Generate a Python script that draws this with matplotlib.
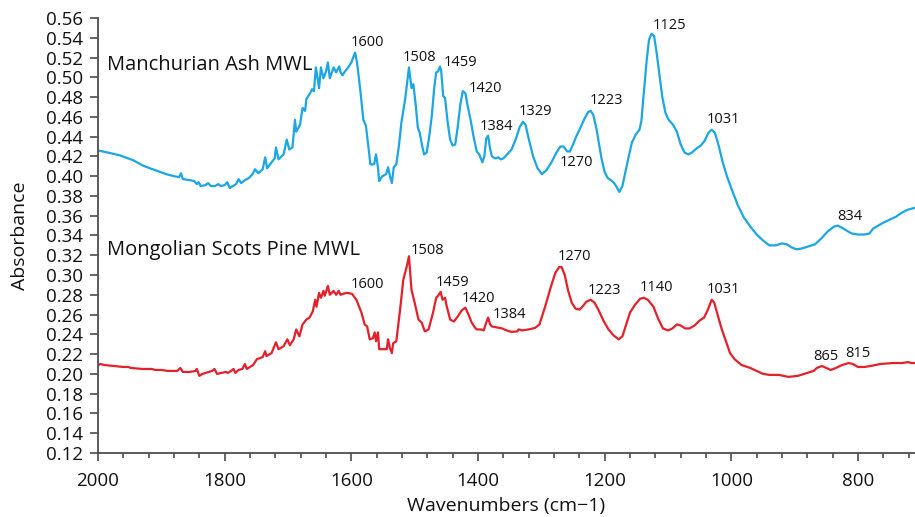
import matplotlib
matplotlib.use('Agg')
import matplotlib.pyplot as plt
from matplotlib.ticker import MultipleLocator, FormatStrFormatter

plt.rcParams['font.family'] = ['Open Sans', 'DejaVu Sans']

# Manchurian Ash MWL spectrum (wavenumber, absorbance)
ash_wn = [2000, 1985, 1965, 1944, 1930, 1918, 1905, 1892, 1880, 1872, 1869, 1866,
          1855, 1848, 1844, 1841, 1838, 1830, 1826, 1822, 1815, 1810, 1806, 1800,
          1796, 1792, 1787, 1782, 1778, 1774, 1768, 1762, 1756, 1752, 1747, 1740,
          1736, 1733, 1726, 1721, 1719, 1715, 1707, 1702, 1698, 1693, 1689, 1687,
          1681, 1677, 1673, 1671, 1665, 1662, 1659, 1656, 1653, 1651, 1648, 1644,
          1640, 1637, 1634, 1628, 1624, 1619, 1617, 1614, 1610, 1605, 1600, 1596,
          1594, 1591, 1586, 1581, 1577, 1572, 1570, 1564, 1561, 1558, 1556, 1551,
          1545, 1542, 1539, 1536, 1533, 1529, 1525, 1521, 1515, 1509, 1505, 1502,
          1498, 1495, 1492, 1488, 1485, 1481, 1477, 1473, 1469, 1466, 1463, 1460,
          1458, 1455, 1452, 1448, 1444, 1440, 1436, 1432, 1428, 1424, 1420, 1416,
          1412, 1407, 1402, 1398, 1393, 1390, 1387, 1384, 1381, 1378, 1373, 1368,
          1364, 1360, 1354, 1347, 1340, 1334, 1329, 1325, 1320, 1313, 1306, 1299,
          1292, 1284, 1276, 1270, 1265, 1259, 1255, 1250, 1245, 1239, 1232, 1226,
          1222, 1218, 1213, 1209, 1205, 1200, 1195, 1190, 1185, 1181, 1177, 1172,
          1168, 1162, 1157, 1151, 1145, 1142, 1138, 1134, 1130, 1126, 1122, 1118,
          1113, 1109, 1104, 1099, 1092, 1086, 1080, 1074, 1068, 1062, 1055, 1048,
          1042, 1036, 1031, 1026, 1020, 1014, 1007, 999, 990, 980, 970, 960,
          950, 940, 930, 920, 912, 905, 897, 888, 878, 868, 858, 848,
          838, 832, 826, 818, 810, 800, 790, 782, 776, 768, 760, 750,
          740, 731, 722, 710]
ash_abs = [0.426, 0.424, 0.421, 0.416, 0.411, 0.408, 0.405, 0.402, 0.400, 0.399, 0.403, 0.397,
           0.396, 0.395, 0.392, 0.394, 0.390, 0.391, 0.393, 0.390, 0.390, 0.392, 0.390, 0.391,
           0.394, 0.388, 0.390, 0.392, 0.397, 0.393, 0.396, 0.398, 0.402, 0.407, 0.403, 0.407,
           0.419, 0.408, 0.414, 0.418, 0.429, 0.417, 0.422, 0.437, 0.427, 0.429, 0.457, 0.445,
           0.452, 0.469, 0.466, 0.478, 0.484, 0.488, 0.486, 0.510, 0.498, 0.489, 0.510, 0.499,
           0.506, 0.515, 0.499, 0.510, 0.505, 0.511, 0.505, 0.502, 0.506, 0.510, 0.515, 0.522,
           0.525, 0.515, 0.488, 0.457, 0.451, 0.424, 0.412, 0.412, 0.422, 0.409, 0.395, 0.400,
           0.402, 0.409, 0.400, 0.393, 0.409, 0.412, 0.430, 0.454, 0.478, 0.510, 0.489, 0.493,
           0.470, 0.449, 0.444, 0.430, 0.422, 0.424, 0.440, 0.461, 0.490, 0.505, 0.506, 0.511,
           0.506, 0.481, 0.479, 0.455, 0.437, 0.431, 0.432, 0.450, 0.472, 0.486, 0.484, 0.470,
           0.458, 0.440, 0.425, 0.422, 0.414, 0.420, 0.438, 0.441, 0.428, 0.420, 0.418, 0.419,
           0.417, 0.418, 0.422, 0.427, 0.438, 0.450, 0.455, 0.452, 0.438, 0.420, 0.408, 0.402,
           0.406, 0.414, 0.424, 0.430, 0.430, 0.425, 0.425, 0.432, 0.440, 0.448, 0.458, 0.465,
           0.466, 0.462, 0.448, 0.433, 0.418, 0.404, 0.398, 0.396, 0.393, 0.389, 0.384, 0.390,
           0.402, 0.420, 0.434, 0.442, 0.447, 0.456, 0.485, 0.515, 0.538, 0.544, 0.542, 0.525,
           0.500, 0.480, 0.464, 0.457, 0.452, 0.445, 0.432, 0.424, 0.422, 0.424, 0.428, 0.431,
           0.436, 0.444, 0.447, 0.444, 0.431, 0.415, 0.400, 0.386, 0.371, 0.358, 0.349, 0.341,
           0.335, 0.330, 0.330, 0.332, 0.331, 0.328, 0.326, 0.327, 0.329, 0.331, 0.337, 0.344,
           0.349, 0.350, 0.348, 0.345, 0.342, 0.341, 0.341, 0.342, 0.347, 0.350, 0.353, 0.356,
           0.359, 0.363, 0.366, 0.368]

# Mongolian Scots Pine MWL spectrum
pine_wn = [2000, 1996, 1990, 1975, 1960, 1952, 1948, 1930, 1915, 1910, 1900, 1890,
           1875, 1870, 1866, 1855, 1846, 1844, 1840, 1835, 1830, 1820, 1816, 1812,
           1805, 1798, 1795, 1790, 1786, 1783, 1778, 1772, 1768, 1765, 1760, 1755,
           1749, 1744, 1740, 1736, 1734, 1726, 1719, 1715, 1707, 1701, 1697, 1691,
           1687, 1682, 1677, 1671, 1666, 1661, 1657, 1655, 1651, 1648, 1644, 1642,
           1637, 1634, 1628, 1624, 1620, 1617, 1613, 1607, 1599, 1592, 1584, 1579,
           1575, 1571, 1566, 1563, 1561, 1558, 1556, 1551, 1544, 1542, 1539, 1536,
           1534, 1529, 1523, 1518, 1512, 1509, 1505, 1500, 1494, 1489, 1484, 1478,
           1471, 1466, 1463, 1459, 1456, 1452, 1450, 1444, 1438, 1432, 1426, 1420,
           1415, 1410, 1405, 1402, 1396, 1391, 1388, 1384, 1381, 1378, 1370, 1362,
           1355, 1347, 1338, 1336, 1330, 1320, 1310, 1303, 1294, 1285, 1278, 1272,
           1268, 1263, 1258, 1252, 1246, 1240, 1235, 1229, 1222, 1216, 1210, 1202,
           1194, 1186, 1178, 1172, 1166, 1160, 1152, 1144, 1138, 1132, 1123, 1115,
           1108, 1100, 1093, 1086, 1080, 1073, 1066, 1058, 1050, 1043, 1037, 1031,
           1027, 1020, 1015, 1008, 1002, 995, 984, 970, 960, 950, 940, 925,
           910, 895, 880, 870, 865, 857, 850, 843, 835, 825, 815, 808,
           800, 790, 780, 765, 745, 730, 721, 716, 710]
pine_abs = [0.209, 0.210, 0.209, 0.208, 0.207, 0.207, 0.206, 0.205, 0.205, 0.204, 0.204, 0.203,
            0.203, 0.206, 0.202, 0.202, 0.203, 0.205, 0.198, 0.200, 0.201, 0.203, 0.205, 0.200,
            0.201, 0.202, 0.201, 0.203, 0.205, 0.201, 0.204, 0.205, 0.210, 0.205, 0.207, 0.209,
            0.215, 0.216, 0.217, 0.223, 0.218, 0.221, 0.232, 0.225, 0.228, 0.235, 0.229, 0.235,
            0.245, 0.238, 0.250, 0.255, 0.257, 0.263, 0.275, 0.268, 0.282, 0.277, 0.284, 0.279,
            0.289, 0.280, 0.284, 0.280, 0.284, 0.280, 0.281, 0.282, 0.281, 0.275, 0.262, 0.250,
            0.248, 0.235, 0.236, 0.242, 0.233, 0.242, 0.225, 0.225, 0.225, 0.235, 0.226, 0.221,
            0.231, 0.233, 0.265, 0.295, 0.310, 0.319, 0.285, 0.272, 0.255, 0.252, 0.243, 0.245,
            0.262, 0.277, 0.279, 0.283, 0.275, 0.277, 0.270, 0.255, 0.253, 0.258, 0.264, 0.267,
            0.260, 0.252, 0.247, 0.245, 0.245, 0.244, 0.250, 0.257, 0.250, 0.248, 0.247, 0.246,
            0.244, 0.2425, 0.243, 0.245, 0.244, 0.245, 0.2465, 0.250, 0.268, 0.288, 0.302, 0.308,
            0.308, 0.300, 0.285, 0.272, 0.266, 0.265, 0.268, 0.273, 0.275, 0.272, 0.265, 0.254,
            0.245, 0.239, 0.235, 0.238, 0.250, 0.262, 0.270, 0.276, 0.277, 0.275, 0.268, 0.255,
            0.246, 0.244, 0.246, 0.250, 0.249, 0.246, 0.246, 0.249, 0.254, 0.257, 0.265, 0.275,
            0.272, 0.256, 0.245, 0.232, 0.221, 0.215, 0.209, 0.206, 0.203, 0.200, 0.199, 0.199,
            0.197, 0.198, 0.201, 0.203, 0.206, 0.208, 0.206, 0.204, 0.206, 0.209, 0.211, 0.210,
            0.207, 0.207, 0.208, 0.210, 0.211, 0.211, 0.212, 0.211, 0.211]

# peak labels: (text, x, y)
ash_peaks = [('1600', 1575, 0.535), ('1508', 1493, 0.520), ('1459', 1427, 0.515),
             ('1420', 1388, 0.489), ('1384', 1371, 0.450), ('1329', 1309, 0.465),
             ('1270', 1245, 0.414), ('1223', 1198, 0.477), ('1125', 1098, 0.5525),
             ('1031', 1012, 0.457), ('834', 813, 0.359)]
pine_peaks = [('1600', 1575, 0.290), ('1508', 1479, 0.325), ('1459', 1440, 0.292),
              ('1420', 1400, 0.276), ('1384', 1351, 0.260), ('1270', 1248, 0.319),
              ('1223', 1200, 0.2845), ('1140', 1119, 0.287), ('1031', 1012, 0.285),
              ('865', 850, 0.218), ('815', 800, 0.2205)]

ASH_COLOR = '#1ba6e4'
PINE_COLOR = '#e4202b'
AXIS_COLOR = '#4d4d4d'

fig = plt.figure(figsize=(9.15, 5.17), dpi=100)
ax = fig.add_axes([0.1071, 0.1238, 0.8929, 0.8414])

ax.plot(ash_wn, ash_abs, color=ASH_COLOR, lw=1.6, solid_joinstyle='round')
ax.plot(pine_wn, pine_abs, color=PINE_COLOR, lw=1.6, solid_joinstyle='round')

for txt, x, y in ash_peaks + pine_peaks:
    ax.text(x, y, txt, ha='center', va='center', fontsize=10.5, color='#111111')

ax.text(1985, 0.512, 'Manchurian Ash MWL', ha='left', va='center', fontsize=14.5, color='#111111')
ax.text(1985, 0.325, 'Mongolian Scots Pine MWL', ha='left', va='center', fontsize=14.5, color='#111111')

ax.set_xlim(2000, 710)
ax.set_ylim(0.12, 0.56)
ax.xaxis.set_major_locator(MultipleLocator(200))
ax.xaxis.set_minor_locator(MultipleLocator(40))
ax.yaxis.set_major_locator(MultipleLocator(0.02))
ax.yaxis.set_major_formatter(FormatStrFormatter('%.2f'))

for side in ['top', 'right']:
    ax.spines[side].set_visible(False)
for side in ['left', 'bottom']:
    ax.spines[side].set_color(AXIS_COLOR)
    ax.spines[side].set_linewidth(1.3)

ax.tick_params(axis='both', which='major', direction='out', length=6, width=1.2,
               color=AXIS_COLOR, labelsize=13.5, labelcolor='#111111')
ax.tick_params(axis='y', pad=5)
ax.tick_params(axis='x', pad=8)
ax.tick_params(axis='x', which='minor', direction='out', length=3.5, width=1.2, color=AXIS_COLOR)

ax.set_xlabel('Wavenumbers (cm\u22121)', fontsize=14, color='#111111', labelpad=5)
ax.set_ylabel('Absorbance', fontsize=14, color='#111111', labelpad=12)

fig.savefig('out.png', dpi=100)
